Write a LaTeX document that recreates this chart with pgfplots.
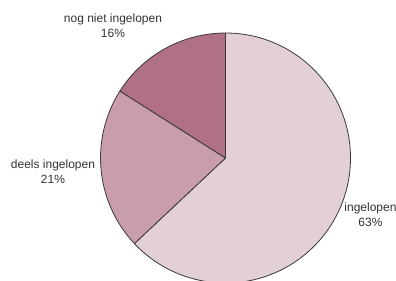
\documentclass[border=0pt]{standalone}
\usepackage{fontspec}
\setmainfont{Liberation Sans}
\usepackage{pgfplots}
\usepackage{pgfplotstable}
\pgfplotsset{compat=1.18}
\definecolor{cIn}{HTML}{E3D0D6}
\definecolor{cDe}{HTML}{C99DAD}
\definecolor{cNo}{HTML}{B07085}
\definecolor{edge}{HTML}{3A3A3A}
\definecolor{txt}{HTML}{333333}
\pgfplotstableread{
label value
ingelopen 63
deels 21
nognietingelopen 16
}\piedata
\pgfplotstablegetelem{0}{value}\of\piedata \let\va\pgfplotsretval
\pgfplotstablegetelem{1}{value}\of\piedata \let\vb\pgfplotsretval
\pgfplotstablegetelem{2}{value}\of\piedata \let\vc\pgfplotsretval
\pgfmathsetmacro\aA{90}
\pgfmathsetmacro\aB{\aA-3.6*\va}
\pgfmathsetmacro\aC{\aB-3.6*\vb}
\pgfmathsetmacro\aD{\aC-3.6*\vc}
\def\R{93.75pt}
\begin{document}%
\begin{tikzpicture}
\useasboundingbox (0,0) rectangle (297pt,210pt);
\clip (0,0) rectangle (297pt,210pt);
\begin{axis}[hide axis, scale only axis, width=297pt, height=210pt,
  xmin=0, xmax=396, ymin=0, ymax=280, at={(0,0)}, anchor=south west, clip=true]
\coordinate (C) at (axis cs:225.5,122);
\filldraw[fill=cIn, draw=edge, line width=0.6pt, line join=round] (C) -- ([shift={(\aA:\R)}]C) arc[start angle=\aA, end angle=\aB, radius=\R] -- cycle;
\filldraw[fill=cDe, draw=edge, line width=0.6pt, line join=round] (C) -- ([shift={(\aB:\R)}]C) arc[start angle=\aB, end angle=\aC, radius=\R] -- cycle;
\filldraw[fill=cNo, draw=edge, line width=0.6pt, line join=round] (C) -- ([shift={(\aC:\R)}]C) arc[start angle=\aC, end angle=\aD, radius=\R] -- cycle;
\node[align=center, text=txt, font=\fontsize{9}{11.25}\selectfont] at (axis cs:113,254) {nog niet ingelopen\\\vc\%};
\node[align=center, text=txt, font=\fontsize{9}{11.25}\selectfont] at (axis cs:53,108.5) {deels ingelopen\\\vb\%};
\node[align=center, text=txt, font=\fontsize{9}{11.25}\selectfont] at (axis cs:370.5,65.5) {ingelopen\\\va\%};
\end{axis}
\end{tikzpicture}%
\end{document}
